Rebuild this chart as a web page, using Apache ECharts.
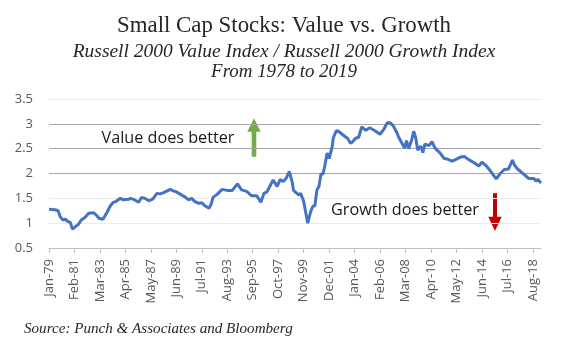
<!DOCTYPE html>
<html><head><meta charset="utf-8">
<script src="https://cdn.jsdelivr.net/npm/echarts@6/dist/echarts.min.js"></script>
<style>html,body{margin:0;padding:0;background:#fff}#c{width:567px;height:350px}</style>
</head><body><div id="c"></div>
<script>
// ---- Data ----
const monthNames = ['Jan','Feb','Mar','Apr','May','Jun','Jul','Aug','Sep','Oct','Nov','Dec'];
const firstYear = 1979, monthCount = 484; // Jan-79 .. Apr-19, monthly categories
const categories = [];
for (let m = 0; m < monthCount; m++) {
  const yy = String((firstYear + Math.floor(m / 12)) % 100).padStart(2, '0');
  categories.push(monthNames[m % 12] + '-' + yy);
}

const sampleMonths = [
 'Jan-79','Jul-79','Oct-79','Dec-79','Mar-80','May-80','Jul-80','Oct-80','Dec-80','Mar-81',
 'Apr-81','Jun-81','Sep-81','Dec-81','Apr-82','Sep-82','Dec-82','Feb-83','Jun-83','Aug-83',
 'Oct-83','Jan-84','Apr-84','Jul-84','Nov-84','Feb-85','Jul-85','Sep-85','Dec-85','May-86',
 'Aug-86','Nov-86','Mar-87','Jul-87','Nov-87','Feb-88','May-88','Sep-88','Dec-88','Mar-89',
 'Jun-89','Nov-89','Mar-90','Jun-90','Sep-90','Dec-90','Apr-91','Jul-91','Oct-91','Feb-92',
 'Apr-92','Jun-92','Oct-92','Nov-92','Mar-93','Aug-93','Jan-94','Apr-94','Jun-94','Oct-94',
 'Mar-95','Aug-95','Jan-96','May-96','Aug-96','Nov-96','May-97','Sep-97','Dec-97','Mar-98',
 'Jun-98','Sep-98','Dec-98','Jan-99','Jun-99','Aug-99','Nov-99','Jan-00','Mar-00','Jun-00',
 'Aug-00','Oct-00','Dec-00','Feb-01','Apr-01','Jun-01','Aug-01','Oct-01','Dec-01','Mar-02',
 'Apr-02','Jul-02','Oct-02','Feb-03','Jun-03','Sep-03','Nov-03','Feb-04','May-04','Aug-04',
 'Dec-04','Apr-05','Sep-05','Feb-06','Jun-06','Sep-06','Dec-06','Mar-07','Jul-07','Aug-07',
 'Nov-07','Feb-08','Apr-08','Jun-08','Sep-08','Nov-08','Jan-09','Mar-09','Jun-09','Aug-09',
 'Oct-09','Feb-10','May-10','Aug-10','Jan-11','May-11','Aug-11','Jan-12','Apr-12','Sep-12',
 'Jan-13','May-13','Oct-13','Mar-14','Jun-14','Oct-14','Feb-15','Aug-15','Dec-15','Apr-16',
 'Aug-16','Dec-16','Feb-17','May-17','Aug-17','Jan-18','Apr-18','Jul-18','Sep-18','Nov-18',
 'Jan-19','Apr-19'
];
const ratioValues = [
 1.28,1.27,1.25,1.13,1.06,1.08,1.04,1.01,0.88,0.93,
 0.96,0.98,1.07,1.11,1.20,1.21,1.15,1.10,1.08,1.15,
 1.22,1.34,1.42,1.44,1.50,1.47,1.48,1.50,1.48,1.42,
 1.52,1.50,1.45,1.49,1.60,1.59,1.61,1.65,1.68,1.65,
 1.63,1.57,1.52,1.47,1.50,1.44,1.40,1.41,1.35,1.30,
 1.37,1.52,1.58,1.54,1.68,1.66,1.66,1.74,1.79,1.67,
 1.64,1.55,1.55,1.42,1.60,1.63,1.87,1.74,1.88,1.84,
 1.91,2.04,1.80,1.66,1.57,1.60,1.44,1.22,1.00,1.24,
 1.34,1.35,1.67,1.74,1.99,1.99,2.18,2.41,2.30,2.54,
 2.71,2.86,2.84,2.77,2.71,2.61,2.64,2.71,2.73,2.94,
 2.87,2.92,2.86,2.79,2.90,3.02,3.02,2.96,2.80,2.74,
 2.63,2.51,2.66,2.50,2.67,2.85,2.72,2.47,2.55,2.42,
 2.59,2.56,2.64,2.51,2.41,2.30,2.29,2.25,2.28,2.33,
 2.34,2.28,2.22,2.15,2.23,2.16,2.06,1.89,2.00,2.08,
 2.09,2.27,2.17,2.09,2.04,1.95,1.90,1.90,1.90,1.85,
 1.88,1.81
];
const yMin = 0.5, yMax = 3.5, yStep = 0.5;
const labelStep = 25; // one x label every 25 months

const titleText = 'Small Cap Stocks: Value vs. Growth';
const subtitleText = 'Russell 2000 Value Index / Russell 2000 Growth Index';
const rangeText = 'From 1978 to 2019';
const sourceText = 'Source: Punch & Associates and Bloomberg';
const upNote = 'Value does better';
const downNote = 'Growth does better';

// ---- helpers ----
const ctx = document.createElement('canvas').getContext('2d');
function fitSize(text, font, target) {
  ctx.font = font.replace('SIZE', '100px');
  return 100 * target / ctx.measureText(text).width;
}
const serif = '"Liberation Serif", serif';
const sans = '"Open Sans", sans-serif';

const tSize = fitSize(titleText, 'normal SIZE ' + serif, 334);
const sSize = fitSize(subtitleText, 'italic SIZE ' + serif, 423);
const rSize = fitSize(rangeText, 'italic SIZE ' + serif, 146);
const srcSize = fitSize(sourceText, 'italic SIZE ' + serif, 269);
const uSize = fitSize(upNote, 'normal SIZE ' + sans, 133);
const dSize = fitSize(downNote, 'normal SIZE ' + sans, 148);

function txt(x, y, text, size, family, style, align, color) {
  return { type: 'text', x: x, y: y, silent: true,
    style: { text: text, fontSize: size, fontFamily: family, fontStyle: style || 'normal',
      fill: color || '#262626', align: align || 'center', verticalAlign: 'middle' } };
}
function arrow(cx, yTail, yTip, headLen, halfHead, halfShaft, color) {
  const dir = yTip < yTail ? 1 : -1; // 1 = points up
  const yBase = yTip + dir * headLen;
  return { type: 'polygon', silent: true, shape: { points: [
    [cx - halfShaft, yTail], [cx - halfShaft, yBase], [cx - halfHead, yBase], [cx, yTip],
    [cx + halfHead, yBase], [cx + halfShaft, yBase], [cx + halfShaft, yTail]] },
    style: { fill: color } };
}

const chart = echarts.init(document.getElementById('c'), null, { renderer: 'canvas' });
chart.setOption({
  animation: false,
  backgroundColor: '#ffffff',
  grid: { left: 49, right: 26, top: 99, bottom: 102, containLabel: false },
  xAxis: {
    type: 'category', data: categories, boundaryGap: false,
    axisLine: { lineStyle: { color: '#bfbfbf', width: 1 } },
    axisTick: { interval: labelStep - 1, length: 5, lineStyle: { color: '#bfbfbf' } },
    axisLabel: { interval: labelStep - 1, rotate: 90, margin: 11, color: '#595959',
      fontFamily: sans, fontSize: 13 },
    splitLine: { show: false }
  },
  yAxis: {
    type: 'value', min: yMin, max: yMax, interval: yStep,
    axisLine: { show: false }, axisTick: { show: false },
    axisLabel: { margin: 16, color: '#595959', fontFamily: sans, fontSize: 13 },
    splitLine: { lineStyle: { width: 1,
      color: ['#d9d9d9', '#ececec', '#ececec', '#a6a6a6', '#a6a6a6', '#a6a6a6', '#ececec'] } }
  },
  series: [{
    type: 'line', showSymbol: false, symbol: 'none', smooth: false,
    data: sampleMonths.map((m, i) => [m, ratioValues[i]]),
    lineStyle: { color: '#4472C4', width: 3 },
    z: 5
  }],
  graphic: [
    txt(284, 26, titleText, tSize, serif, 'normal'),
    txt(284, 52, subtitleText, sSize, serif, 'italic'),
    txt(284, 72, rangeText, rSize, serif, 'italic'),
    txt(24, 329, sourceText, srcSize, serif, 'italic', 'left'),
    txt(168, 138, upNote, uSize, sans, 'normal', 'center', '#1a1a1a'),
    txt(405, 210, downNote, dSize, sans, 'normal', 'center', '#1a1a1a'),
    arrow(254, 156.7, 118.3, 13.4, 6.7, 2.3, '#70AD47'),
    arrow(495, 193.3, 231, 14.3, 6.7, 2.0, '#C00000')
  ]
});
</script>
</body></html>
